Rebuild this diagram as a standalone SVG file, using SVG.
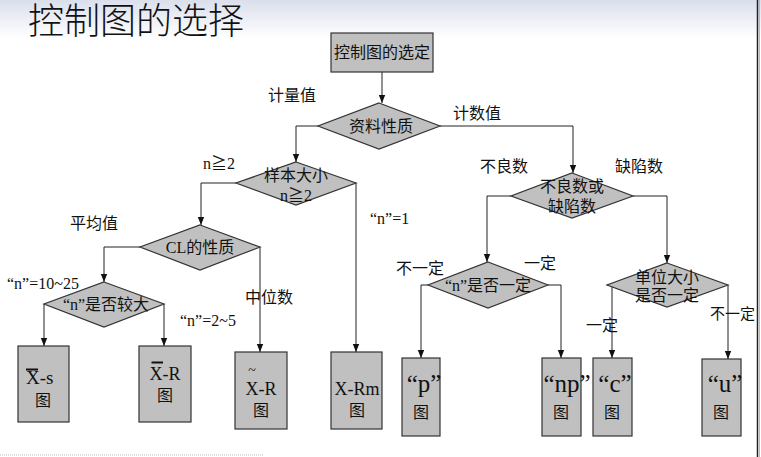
<svg xmlns="http://www.w3.org/2000/svg" width="761" height="457" viewBox="0 0 761 457">
<defs>
<linearGradient id="bg" x1="0" y1="0" x2="0" y2="1">
<stop offset="0" stop-color="#dadfec"/>
<stop offset="1" stop-color="#ffffff"/>
</linearGradient>
<marker id="ah" viewBox="0 0 8 8" refX="8" refY="4" markerWidth="8" markerHeight="8" markerUnits="userSpaceOnUse" orient="auto">
<path d="M0,0.8 L8,4 L0,7.2 Z" fill="#111"/>
</marker>
</defs>
<style>
text{font-family:"Liberation Serif","Noto Sans CJK SC",serif;fill:#111;}
.t{font-size:16px;}
.c{text-anchor:middle;}
.node{fill:#c0c0c0;stroke:#333;stroke-width:1.2;}
.conn path{fill:none;stroke:#222;stroke-width:1;marker-end:url(#ah);}
.big{font-size:25px;}
.lab{font-size:18px;}
</style>
<rect x="0" y="0" width="761" height="38" fill="url(#bg)"/>
<text x="28" y="34" style="font-size:36px;font-weight:300" font-family="Noto Sans CJK SC">控制图的选择</text>
<line x1="757.5" y1="0" x2="757.5" y2="457" stroke="#222" stroke-width="1.5"/>
<line x1="759.5" y1="0" x2="759.5" y2="457" stroke="#bbb" stroke-width="1"/>
<line x1="0" y1="455" x2="263" y2="455" stroke="#bbb" stroke-width="1" stroke-dasharray="1,1"/>

<g class="conn">
<path d="M382,72 V103"/>
<path d="M318,126 H296 V162"/>
<path d="M440,126 H573 V173"/>
<path d="M236,183 H201 V225"/>
<path d="M356,183 V352"/>
<path d="M140,247 H104 V282"/>
<path d="M260,247 V352"/>
<path d="M44,304 V346"/>
<path d="M164,304 V346"/>
<path d="M511,196 H487 V262"/>
<path d="M633,196 H667 V263"/>
<path d="M428,285 H421 V358"/>
<path d="M548,285 H561 V358"/>
<path d="M607,285 H612 V358"/>
<path d="M728,285 V359"/>
</g>

<g id="start"><rect class="node" x="331" y="33" width="102" height="39"/><text class="t c" x="382" y="58">控制图的选定</text></g>
<g id="d-data"><polygon class="node" points="379,103 440,126 379,149 318,126"/><text class="t c" x="381" y="132">资料性质</text></g>
<g id="d-sample"><polygon class="node" points="296,162 356,183 296,205 236,183"/><text class="t c" x="296" y="181">样本大小</text><text class="t c" x="296" y="201">n≧2</text></g>
<g id="d-cl"><polygon class="node" points="200,225 260,247 200,270 140,247"/><text class="t c" x="200" y="253">CL的性质</text></g>
<g id="d-nbig"><polygon class="node" points="104,282 164,304 104,327 44,304"/><text class="t c" x="106" y="310">“n”是否较大</text></g>
<g id="d-defect"><polygon class="node" points="572,173 633,196 572,218 511,196"/><text class="t c" x="572" y="192">不良数或</text><text class="t c" x="572" y="212">缺陷数</text></g>
<g id="d-nfix"><polygon class="node" points="488,262 548,285 488,308 428,285"/><text class="t c" x="488" y="291">“n”是否一定</text></g>
<g id="d-unit"><polygon class="node" points="667,263 728,285 667,307 607,285"/><text class="t c" x="667" y="283">单位大小</text><text class="t c" x="667" y="301">是否一定</text></g>

<g id="b-xs"><rect class="node" x="18" y="346" width="51" height="76"/><line x1="26" y1="369.5" x2="38" y2="369.5" stroke="#111" stroke-width="2"/><text x="26" y="384" style="font-size:19px">X-s</text><text class="t c" x="43" y="406">图</text></g>
<g id="b-xr"><rect class="node" x="139" y="346" width="52" height="76"/><line x1="151.5" y1="362.5" x2="163" y2="362.5" stroke="#111" stroke-width="2"/><text class="c lab" x="165" y="380">X-R</text><text class="t c" x="165" y="401">图</text></g>
<g id="b-mr"><rect class="node" x="235" y="352" width="52" height="77"/><text class="c" x="252" y="375" style="font-size:14px">~</text><text class="c lab" x="261" y="395">X-R</text><text class="t c" x="261" y="416">图</text></g>
<g id="b-rm"><rect class="node" x="331" y="352" width="51" height="77"/><text class="c lab" x="357" y="395">X-Rm</text><text class="t c" x="357" y="416">图</text></g>
<g id="b-p"><rect class="node" x="402" y="358" width="38" height="78"/><text class="c big" x="424" y="392">“p”</text><text class="t c" x="421" y="418">图</text></g>
<g id="b-np"><rect class="node" x="542" y="358" width="39" height="78"/><text class="c big" x="567" y="392">“np”</text><text class="t c" x="561" y="418">图</text></g>
<g id="b-c"><rect class="node" x="593" y="358" width="39" height="78"/><text class="c big" x="615" y="392">“c”</text><text class="t c" x="612" y="418">图</text></g>
<g id="b-u"><rect class="node" x="702" y="359" width="39" height="77"/><text class="c big" x="725" y="392">“u”</text><text class="t c" x="721" y="418">图</text></g>

<g id="labels" class="t">
<text x="268" y="101">计量值</text>
<text x="453" y="119">计数值</text>
<text x="203" y="169">n≧2</text>
<text x="370" y="224">“n”=1</text>
<text x="70" y="229">平均值</text>
<text x="7" y="289">“n”=10~25</text>
<text x="245" y="303">中位数</text>
<text x="180" y="326">“n”=2~5</text>
<text x="480" y="172">不良数</text>
<text x="615" y="172">缺陷数</text>
<text x="396" y="274">不一定</text>
<text x="524" y="269">一定</text>
<text x="586" y="331">一定</text>
<text x="710" y="319" style="font-size:15px">不一定</text>
</g>
</svg>
